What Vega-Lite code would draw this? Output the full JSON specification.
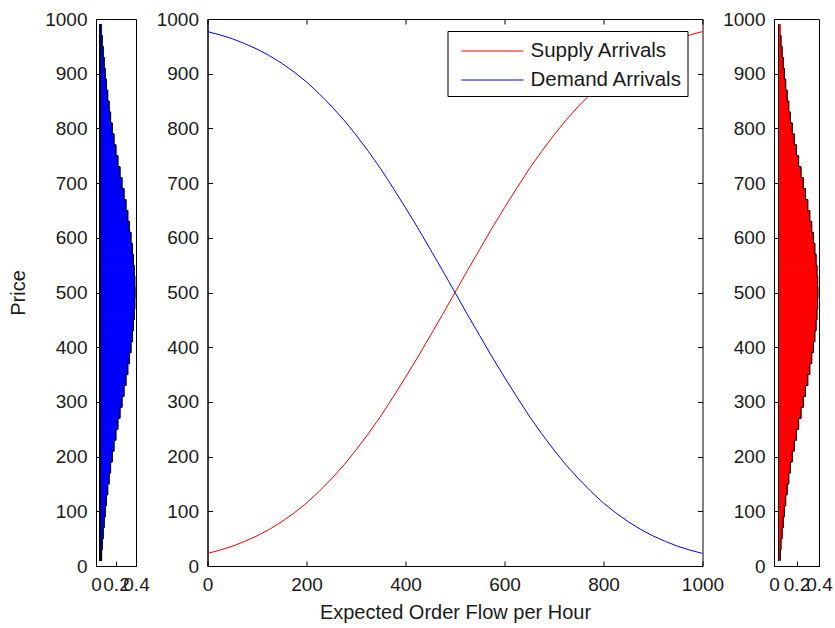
{
  "$schema": "https://vega.github.io/schema/vega-lite/v6.json",
  "background": "white",
  "padding": {"left": 8, "top": 9, "right": 5, "bottom": 5},
  "config": {
    "font": "Liberation Sans",
    "view": {"stroke": "black", "strokeWidth": 1},
    "axis": {
      "labelFont": "Liberation Sans", "labelFontSize": 19, "labelColor": "#1a1a1a",
      "titleFont": "Liberation Sans", "titleFontSize": 20, "titleFontWeight": "normal", "titleColor": "#1a1a1a",
      "domainColor": "black", "tickColor": "black", "grid": false,
      "tickSize": -5, "labelPadding": 14, "labelFlush": false, "labelOverlap": false
    }
  },
  "datasets": {
    "curves": [
      {"flow": 0, "price": 23, "series": "Supply Arrivals"},
      {"flow": 25, "price": 29, "series": "Supply Arrivals"},
      {"flow": 50, "price": 36, "series": "Supply Arrivals"},
      {"flow": 75, "price": 45, "series": "Supply Arrivals"},
      {"flow": 100, "price": 55, "series": "Supply Arrivals"},
      {"flow": 125, "price": 67, "series": "Supply Arrivals"},
      {"flow": 150, "price": 81, "series": "Supply Arrivals"},
      {"flow": 175, "price": 97, "series": "Supply Arrivals"},
      {"flow": 200, "price": 115, "series": "Supply Arrivals"},
      {"flow": 225, "price": 136, "series": "Supply Arrivals"},
      {"flow": 250, "price": 159, "series": "Supply Arrivals"},
      {"flow": 275, "price": 184, "series": "Supply Arrivals"},
      {"flow": 300, "price": 212, "series": "Supply Arrivals"},
      {"flow": 325, "price": 242, "series": "Supply Arrivals"},
      {"flow": 350, "price": 274, "series": "Supply Arrivals"},
      {"flow": 375, "price": 309, "series": "Supply Arrivals"},
      {"flow": 400, "price": 345, "series": "Supply Arrivals"},
      {"flow": 425, "price": 382, "series": "Supply Arrivals"},
      {"flow": 450, "price": 421, "series": "Supply Arrivals"},
      {"flow": 475, "price": 460, "series": "Supply Arrivals"},
      {"flow": 500, "price": 500, "series": "Supply Arrivals"},
      {"flow": 525, "price": 540, "series": "Supply Arrivals"},
      {"flow": 550, "price": 579, "series": "Supply Arrivals"},
      {"flow": 575, "price": 618, "series": "Supply Arrivals"},
      {"flow": 600, "price": 655, "series": "Supply Arrivals"},
      {"flow": 625, "price": 691, "series": "Supply Arrivals"},
      {"flow": 650, "price": 726, "series": "Supply Arrivals"},
      {"flow": 675, "price": 758, "series": "Supply Arrivals"},
      {"flow": 700, "price": 788, "series": "Supply Arrivals"},
      {"flow": 725, "price": 816, "series": "Supply Arrivals"},
      {"flow": 750, "price": 841, "series": "Supply Arrivals"},
      {"flow": 775, "price": 864, "series": "Supply Arrivals"},
      {"flow": 800, "price": 885, "series": "Supply Arrivals"},
      {"flow": 825, "price": 903, "series": "Supply Arrivals"},
      {"flow": 850, "price": 919, "series": "Supply Arrivals"},
      {"flow": 875, "price": 933, "series": "Supply Arrivals"},
      {"flow": 900, "price": 945, "series": "Supply Arrivals"},
      {"flow": 925, "price": 955, "series": "Supply Arrivals"},
      {"flow": 950, "price": 964, "series": "Supply Arrivals"},
      {"flow": 975, "price": 971, "series": "Supply Arrivals"},
      {"flow": 1000, "price": 977, "series": "Supply Arrivals"},
      {"flow": 0, "price": 977, "series": "Demand Arrivals"},
      {"flow": 25, "price": 971, "series": "Demand Arrivals"},
      {"flow": 50, "price": 964, "series": "Demand Arrivals"},
      {"flow": 75, "price": 955, "series": "Demand Arrivals"},
      {"flow": 100, "price": 945, "series": "Demand Arrivals"},
      {"flow": 125, "price": 933, "series": "Demand Arrivals"},
      {"flow": 150, "price": 919, "series": "Demand Arrivals"},
      {"flow": 175, "price": 903, "series": "Demand Arrivals"},
      {"flow": 200, "price": 885, "series": "Demand Arrivals"},
      {"flow": 225, "price": 864, "series": "Demand Arrivals"},
      {"flow": 250, "price": 841, "series": "Demand Arrivals"},
      {"flow": 275, "price": 816, "series": "Demand Arrivals"},
      {"flow": 300, "price": 788, "series": "Demand Arrivals"},
      {"flow": 325, "price": 758, "series": "Demand Arrivals"},
      {"flow": 350, "price": 726, "series": "Demand Arrivals"},
      {"flow": 375, "price": 691, "series": "Demand Arrivals"},
      {"flow": 400, "price": 655, "series": "Demand Arrivals"},
      {"flow": 425, "price": 618, "series": "Demand Arrivals"},
      {"flow": 450, "price": 579, "series": "Demand Arrivals"},
      {"flow": 475, "price": 540, "series": "Demand Arrivals"},
      {"flow": 500, "price": 500, "series": "Demand Arrivals"},
      {"flow": 525, "price": 460, "series": "Demand Arrivals"},
      {"flow": 550, "price": 421, "series": "Demand Arrivals"},
      {"flow": 575, "price": 382, "series": "Demand Arrivals"},
      {"flow": 600, "price": 345, "series": "Demand Arrivals"},
      {"flow": 625, "price": 309, "series": "Demand Arrivals"},
      {"flow": 650, "price": 274, "series": "Demand Arrivals"},
      {"flow": 675, "price": 242, "series": "Demand Arrivals"},
      {"flow": 700, "price": 212, "series": "Demand Arrivals"},
      {"flow": 725, "price": 184, "series": "Demand Arrivals"},
      {"flow": 750, "price": 159, "series": "Demand Arrivals"},
      {"flow": 775, "price": 136, "series": "Demand Arrivals"},
      {"flow": 800, "price": 115, "series": "Demand Arrivals"},
      {"flow": 825, "price": 97, "series": "Demand Arrivals"},
      {"flow": 850, "price": 81, "series": "Demand Arrivals"},
      {"flow": 875, "price": 67, "series": "Demand Arrivals"},
      {"flow": 900, "price": 55, "series": "Demand Arrivals"},
      {"flow": 925, "price": 45, "series": "Demand Arrivals"},
      {"flow": 950, "price": 36, "series": "Demand Arrivals"},
      {"flow": 975, "price": 29, "series": "Demand Arrivals"},
      {"flow": 1000, "price": 23, "series": "Demand Arrivals"}
    ],
    "dist": [
      {"lo": 10, "hi": 30, "value": 0.056},
      {"lo": 30, "hi": 50, "value": 0.062},
      {"lo": 50, "hi": 70, "value": 0.072},
      {"lo": 70, "hi": 90, "value": 0.082},
      {"lo": 90, "hi": 110, "value": 0.092},
      {"lo": 110, "hi": 130, "value": 0.104},
      {"lo": 130, "hi": 150, "value": 0.117},
      {"lo": 150, "hi": 170, "value": 0.131},
      {"lo": 170, "hi": 190, "value": 0.146},
      {"lo": 190, "hi": 210, "value": 0.162},
      {"lo": 210, "hi": 230, "value": 0.180},
      {"lo": 230, "hi": 250, "value": 0.199},
      {"lo": 250, "hi": 270, "value": 0.219},
      {"lo": 270, "hi": 290, "value": 0.240},
      {"lo": 290, "hi": 310, "value": 0.260},
      {"lo": 310, "hi": 330, "value": 0.280},
      {"lo": 330, "hi": 350, "value": 0.300},
      {"lo": 350, "hi": 370, "value": 0.318},
      {"lo": 370, "hi": 390, "value": 0.335},
      {"lo": 390, "hi": 410, "value": 0.350},
      {"lo": 410, "hi": 430, "value": 0.363},
      {"lo": 430, "hi": 450, "value": 0.374},
      {"lo": 450, "hi": 470, "value": 0.382},
      {"lo": 470, "hi": 490, "value": 0.388},
      {"lo": 490, "hi": 510, "value": 0.390},
      {"lo": 510, "hi": 530, "value": 0.388},
      {"lo": 530, "hi": 550, "value": 0.382},
      {"lo": 550, "hi": 570, "value": 0.374},
      {"lo": 570, "hi": 590, "value": 0.363},
      {"lo": 590, "hi": 610, "value": 0.350},
      {"lo": 610, "hi": 630, "value": 0.335},
      {"lo": 630, "hi": 650, "value": 0.318},
      {"lo": 650, "hi": 670, "value": 0.300},
      {"lo": 670, "hi": 690, "value": 0.280},
      {"lo": 690, "hi": 710, "value": 0.260},
      {"lo": 710, "hi": 730, "value": 0.240},
      {"lo": 730, "hi": 750, "value": 0.219},
      {"lo": 750, "hi": 770, "value": 0.199},
      {"lo": 770, "hi": 790, "value": 0.180},
      {"lo": 790, "hi": 810, "value": 0.162},
      {"lo": 810, "hi": 830, "value": 0.146},
      {"lo": 830, "hi": 850, "value": 0.131},
      {"lo": 850, "hi": 870, "value": 0.117},
      {"lo": 870, "hi": 890, "value": 0.104},
      {"lo": 890, "hi": 910, "value": 0.092},
      {"lo": 910, "hi": 930, "value": 0.082},
      {"lo": 930, "hi": 950, "value": 0.072},
      {"lo": 950, "hi": 970, "value": 0.062},
      {"lo": 970, "hi": 990, "value": 0.056}
    ]
  },
  "bounds": "flush",
  "spacing": 71.5,
  "resolve": {"scale": {"color": "independent"}},
  "hconcat": [
    {
      "width": 40,
      "height": 547,
      "data": {"name": "dist"},
      "layer": [
        {
          "mark": {"type": "rect", "color": "#0000ff", "stroke": "#0000ff", "strokeWidth": 1},
          "encoding": {
            "y": {"field": "lo", "type": "quantitative", "scale": {"domain": [0, 1000], "nice": false},
                  "axis": {"values": [0, 100, 200, 300, 400, 500, 600, 700, 800, 900, 1000], "format": "d", "title": "Price", "titlePadding": 16, "labelOverlap": false}},
            "y2": {"field": "hi"},
            "x": {"field": "value", "type": "quantitative", "scale": {"domain": [0, 0.4], "nice": false},
                  "axis": {"values": [0, 0.2, 0.4], "format": "~g", "title": null, "labelOverlap": false}},
            "x2": {"datum": 0.04}
          }
        },
        {
          "mark": {"type": "line", "color": "black", "strokeWidth": 1, "interpolate": "step-before"},
          "encoding": {
            "y": {"field": "lo", "type": "quantitative",
                  "axis": {"values": [0, 100, 200, 300, 400, 500, 600, 700, 800, 900, 1000], "format": "d", "title": "Price", "titlePadding": 16, "labelOverlap": false}},
            "x": {"field": "value", "type": "quantitative",
                  "axis": {"values": [0, 0.2, 0.4], "format": "~g", "title": null, "labelOverlap": false}},
            "order": {"field": "lo", "type": "quantitative"}
          }
        },
        {
          "mark": {"type": "rule", "color": "black", "strokeWidth": 1},
          "encoding": {
            "x": {"datum": 0.04, "type": "quantitative",
                  "axis": {"values": [0, 0.2, 0.4], "format": "~g", "title": null, "labelOverlap": false}},
            "y": {"datum": 10, "type": "quantitative",
                  "axis": {"values": [0, 100, 200, 300, 400, 500, 600, 700, 800, 900, 1000], "format": "d", "title": "Price", "titlePadding": 16, "labelOverlap": false}},
            "y2": {"datum": 990}
          }
        }
      ]
    },
    {
      "width": 495,
      "height": 547,
      "data": {"name": "curves"},
      "layer": [
        {
          "mark": {"type": "line", "strokeWidth": 1},
          "encoding": {
            "x": {"field": "flow", "type": "quantitative", "scale": {"domain": [0, 1000], "nice": false},
                  "axis": {"values": [0, 200, 400, 600, 800, 1000], "format": "d", "title": "Expected Order Flow per Hour", "titlePadding": 8, "labelOverlap": false}},
            "y": {"field": "price", "type": "quantitative", "scale": {"domain": [0, 1000], "nice": false},
                  "axis": {"values": [0, 100, 200, 300, 400, 500, 600, 700, 800, 900, 1000], "format": "d", "title": null, "labelOverlap": false}},
            "color": {"field": "series", "type": "nominal",
                      "scale": {"domain": ["Supply Arrivals", "Demand Arrivals"], "range": ["#ff0000", "#0000ff"]},
                      "legend": {"orient": "none", "legendX": 240, "legendY": 12, "title": null,
                                 "strokeColor": "black", "fillColor": "white", "padding": 5,
                                 "symbolType": "M-0.4,-0.04H3.73V0.04H-0.4Z", "symbolSize": 900, "symbolStrokeWidth": 0,
                                 "labelFont": "Liberation Sans", "labelFontSize": 20.5, "labelColor": "#1a1a1a",
                                 "labelOffset": 48, "rowPadding": 3,
                                 "encode": {"symbols": {"update": {
                                   "fill": {"signal": "datum.value === 'Supply Arrivals' ? '#ff0000' : '#0000ff'"},
                                   "stroke": {"value": "transparent"},
                                   "opacity": {"value": 1}, "fillOpacity": {"value": 1}}}}}}
          }
        },
        {
          "mark": {"type": "line", "strokeOpacity": 0},
          "encoding": {
            "x": {"field": "flow", "type": "quantitative", "scale": {"domain": [0, 1000], "nice": false},
                  "axis": {"orient": "top", "values": [0, 200, 400, 600, 800, 1000], "labels": false, "domain": false, "title": null}},
            "y": {"field": "price", "type": "quantitative", "scale": {"domain": [0, 1000], "nice": false},
                  "axis": {"orient": "right", "values": [0, 100, 200, 300, 400, 500, 600, 700, 800, 900, 1000], "labels": false, "domain": false, "title": null}},
            "detail": {"field": "series"}
          }
        }
      ],
      "resolve": {"scale": {"x": "independent", "y": "independent"}}
    },
    {
      "width": 45,
      "height": 547,
      "data": {"name": "dist"},
      "layer": [
        {
          "mark": {"type": "rect", "color": "#ff0000", "stroke": "#ff0000", "strokeWidth": 1},
          "encoding": {
            "y": {"field": "lo", "type": "quantitative", "scale": {"domain": [0, 1000], "nice": false},
                  "axis": {"values": [0, 100, 200, 300, 400, 500, 600, 700, 800, 900, 1000], "format": "d", "title": null, "labelOverlap": false}},
            "y2": {"field": "hi"},
            "x": {"field": "value", "type": "quantitative", "scale": {"domain": [0, 0.4], "nice": false},
                  "axis": {"values": [0, 0.2, 0.4], "format": "~g", "title": null, "labelOverlap": false}},
            "x2": {"datum": 0.04}
          }
        },
        {
          "mark": {"type": "line", "color": "black", "strokeWidth": 1, "interpolate": "step-before"},
          "encoding": {
            "y": {"field": "lo", "type": "quantitative",
                  "axis": {"values": [0, 100, 200, 300, 400, 500, 600, 700, 800, 900, 1000], "format": "d", "title": null, "labelOverlap": false}},
            "x": {"field": "value", "type": "quantitative",
                  "axis": {"values": [0, 0.2, 0.4], "format": "~g", "title": null, "labelOverlap": false}},
            "order": {"field": "lo", "type": "quantitative"}
          }
        },
        {
          "mark": {"type": "rule", "color": "black", "strokeWidth": 1},
          "encoding": {
            "x": {"datum": 0.04, "type": "quantitative",
                  "axis": {"values": [0, 0.2, 0.4], "format": "~g", "title": null, "labelOverlap": false}},
            "y": {"datum": 10, "type": "quantitative",
                  "axis": {"values": [0, 100, 200, 300, 400, 500, 600, 700, 800, 900, 1000], "format": "d", "title": null, "labelOverlap": false}},
            "y2": {"datum": 990}
          }
        }
      ]
    }
  ]
}
